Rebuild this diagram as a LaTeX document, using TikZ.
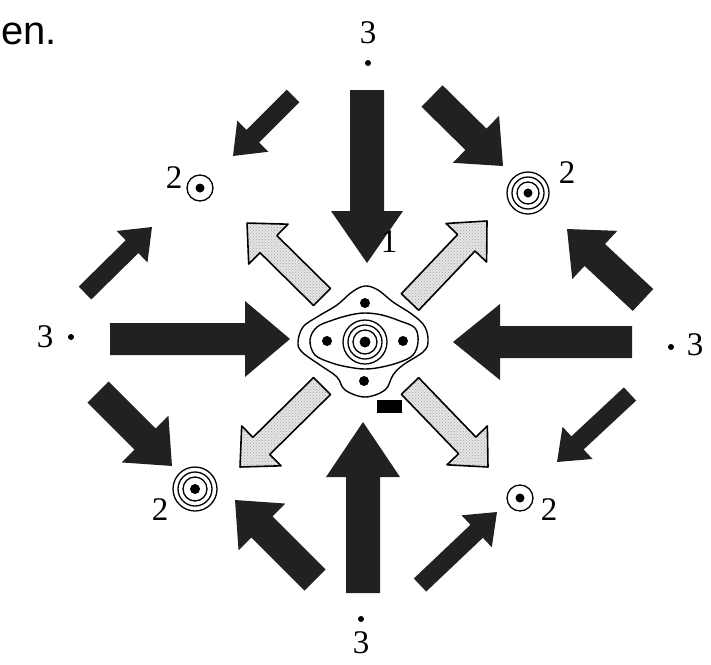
\documentclass[tikz,border=0pt]{standalone}
\usepackage{fontspec}
\setmainfont{Liberation Serif}
\newfontfamily\arialfont{Liberation Sans}
\usetikzlibrary{patterns}
% #1,#2 tail; #3,#4 tip; #5 shaft half width; #6 head half width; #7 head length; #8 style
\newcommand\myarrow[8]{%
  \pgfmathsetmacro\aang{atan2((#4)-(#2),(#3)-(#1))}%
  \pgfmathsetmacro\alen{veclen((#3)-(#1),(#4)-(#2))}%
  \begin{scope}[shift={(#1,#2)},rotate={0-(\aang)}]
    \path[#8] (0,-#5) -- (\alen-#7,-#5) -- (\alen-#7,-#6) -- (\alen,0)
      -- (\alen-#7,#6) -- (\alen-#7,#5) -- (0,#5) -- cycle;
  \end{scope}}
\begin{document}
\begin{tikzpicture}[x=1pt,y=-1pt,
  lbl/.style={font=\fontsize{33}{33}\selectfont, inner sep=0pt},
  solidarr/.style={fill=black!87},
  hollowarr/.style={draw=black, line width=1.6pt, line join=round,
    preaction={fill=gray!20}, pattern=crosshatch dots, pattern color=gray!70},
  contour/.style={draw=black, line width=1.4pt},
  ring/.style={draw=black, line width=1.3pt},
  spot/.style={fill=black}]
\useasboundingbox (0,0) rectangle (711,664);

% caption fragment
\node[font=\arialfont\fontsize{40}{40}\selectfont, anchor=base west, inner sep=0pt] (cap) at (1,44) {en.};

% ---- big inward arrows
\myarrow{367}{90}{367}{263}{17}{36}{52}{solidarr}
\myarrow{363}{593}{363}{422}{17}{37}{55}{solidarr}
\myarrow{110}{339}{290}{339}{16}{38}{45}{solidarr}
\myarrow{632}{342}{453}{342}{16}{38}{47}{solidarr}

% ---- hollow stippled outward arrows
\myarrow{322}{297}{247}{223}{12}{28}{30}{hollowarr}
\myarrow{410}{302}{487}{221}{12}{28}{30}{hollowarr}
\myarrow{322}{386}{240}{467}{12}{28}{30}{hollowarr}
\myarrow{410}{386}{488}{467}{12}{28}{30}{hollowarr}

% ---- corner arrows
\myarrow{293}{96}{233}{156}{9}{22}{28}{solidarr}
\myarrow{432}{96}{503}{166}{15}{33}{38}{solidarr}
\myarrow{85}{293}{152}{227}{9}{22}{28}{solidarr}
\myarrow{643}{300}{567}{229}{15}{33}{38}{solidarr}
\myarrow{98}{392}{172}{466}{15}{33}{38}{solidarr}
\myarrow{630}{394}{557}{462}{9}{22}{28}{solidarr}
\myarrow{315}{580}{235}{500}{15}{33}{38}{solidarr}
\myarrow{420}{585}{497}{512}{9}{22}{28}{solidarr}

% ---- central structure
\draw[contour] plot[smooth cycle, tension=0.6] coordinates {
  (298,342) (303,327) (317,317) (337,305) (352,292) (365,286) (378,290)
  (393,302) (413,315) (425,327) (428,342) (423,352) (403,365) (393,375)
  (385,390) (365,397) (345,390) (337,377) (320,365) (302,352)};
\draw[contour] plot[smooth cycle, tension=0.6] coordinates {
  (310,340) (317,327) (333,320) (350,315) (365,313) (382,315) (400,321)
  (415,328) (418,342) (413,355) (400,362) (382,367) (365,369) (348,367)
  (332,363) (315,355)};
\draw[ring] (365,342) circle (22pt) (365,342) circle (17pt) (365,342) circle (12pt);
\fill[spot] (365,342) circle (5.5pt);
\fill[spot] (365,303) circle (5pt) (364,381) circle (5pt)
            (327,341) circle (5pt) (403,341) circle (5pt);
\fill[spot] (377,400) rectangle (402,413);
\node[lbl] (l1) at (389,242) {1};

% ---- the four points labelled 2
\draw[ring] (200,188) circle (13pt);
\fill[spot] (200,188) circle (4.5pt);
\node[lbl] (l2a) at (174,178) {2};

\draw[ring] (528,193) circle (21pt) (528,193) circle (16pt) (528,193) circle (11pt);
\fill[spot] (528,193) circle (4.5pt);
\node[lbl] (l2b) at (567,173) {2};

\draw[ring] (195,489) circle (22pt) (195,489) circle (17pt) (195,489) circle (12pt);
\fill[spot] (195,489) circle (5pt);
\node[lbl] (l2c) at (160,510) {2};

\draw[ring] (520,498) circle (13pt);
\fill[spot] (520,498) circle (4.5pt);
\node[lbl] (l2d) at (549,510) {2};

% ---- the four points labelled 3
\node[lbl] (l3t) at (368,33) {3};
\fill[spot] (368,63) circle (3pt);
\node[lbl] (l3b) at (361,643) {3};
\fill[spot] (361,619) circle (3pt);
\node[lbl] (l3l) at (45,337) {3};
\fill[spot] (71,337) circle (3pt);
\node[lbl] (l3r) at (695,345) {3};
\fill[spot] (671,347) circle (3pt);
\end{tikzpicture}
\end{document}
